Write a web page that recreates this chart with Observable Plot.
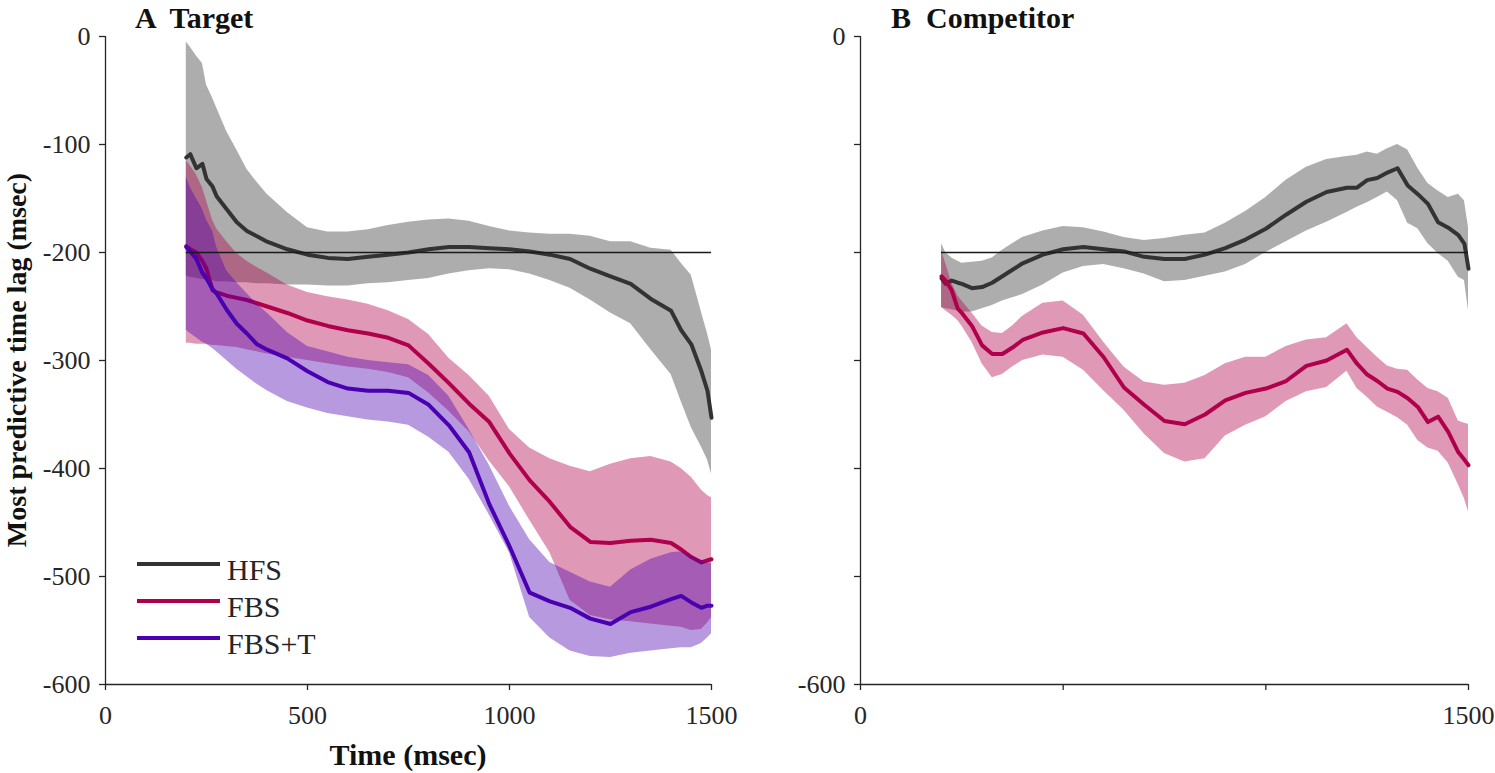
<!DOCTYPE html>
<html>
<head>
<meta charset="utf-8">
<script src="https://cdn.jsdelivr.net/npm/d3@7"></script>
<script src="https://cdn.jsdelivr.net/npm/@observablehq/plot@0.6"></script>
<style>
  html, body { margin: 0; padding: 0; background: #fff; }
  #wrap { position: relative; width: 1495px; height: 773px; overflow: hidden;
          font-family: "Liberation Serif", "Times New Roman", serif; color: #262626; }
  .pan { position: absolute; top: 0; }
  .pan svg { font-family: "Liberation Serif", "Times New Roman", serif !important; }
  .pan svg text { font-family: "Liberation Serif", "Times New Roman", serif !important; }
  .txt { position: absolute; white-space: pre; }
  .bold { font-weight: bold; color: #111; }
  .ylab { position: absolute; white-space: pre; line-height: 1.1; font-weight: bold; font-size: 28px; color: #111;
          transform: translate(-50%, -50%) rotate(-90deg); }
  .legline { position: absolute; height: 4px; }
</style>
</head>
<body>
<div id="wrap"></div>
<script>
// ---------------- DATA ----------------
// Panel A (Target): time grid (msec)
const timeA = [200,210,225,240,250,265,275,300,325,350,375,400,450,500,550,600,650,700,750,800,850,900,950,1000,1050,1100,1150,1200,1250,1300,1350,1400,1425,1450,1475,1490,1500];

const hfsA     = [-112,-109,-122,-118,-132,-139,-148,-160,-172,-180,-185,-190,-197,-202,-205,-206,-204,-202,-200,-197,-195,-195,-196,-197,-199,-202,-206,-215,-222,-229,-243,-254,-272,-285,-310,-328,-353];
const hfsA_hi  = [-5,-10,-18,-25,-45,-57,-66,-88,-105,-123,-135,-146,-163,-177,-181,-181,-179,-175,-172,-170,-169,-171,-176,-180,-182,-183,-183,-185,-190,-190,-196,-198,-210,-221,-255,-275,-290];
const hfsA_lo  = [-222,-223,-224,-225,-226,-226,-227,-227,-228,-228,-229,-229,-230,-230,-231,-231,-229,-228,-226,-224,-220,-217,-215,-216,-220,-226,-233,-244,-256,-266,-290,-313,-338,-362,-380,-392,-405];

const fbsA     = [-194,-197,-200,-208,-215,-235,-237,-240,-242,-244,-247,-250,-256,-263,-268,-272,-275,-279,-286,-303,-321,-340,-357,-386,-411,-431,-454,-468,-469,-467,-466,-469,-475,-482,-487,-485,-484];
const fbsA_hi  = [-115,-120,-128,-140,-152,-170,-178,-190,-201,-208,-214,-219,-230,-237,-241,-244,-248,-254,-262,-276,-298,-314,-333,-364,-381,-391,-398,-403,-396,-391,-389,-394,-400,-408,-420,-425,-427];
const fbsA_lo  = [-284,-284,-285,-285,-285,-286,-286,-287,-288,-290,-292,-294,-297,-300,-303,-306,-308,-311,-316,-330,-347,-366,-393,-417,-448,-478,-522,-536,-540,-542,-544,-546,-547,-550,-549,-543,-538];

const fbstA    = [-195,-199,-206,-219,-224,-234,-238,-253,-266,-275,-285,-290,-298,-310,-320,-326,-328,-328,-330,-341,-360,-385,-433,-472,-515,-523,-529,-539,-544,-533,-528,-521,-518,-524,-529,-527,-527];
const fbstA_hi = [-130,-140,-150,-160,-170,-180,-195,-217,-228,-238,-248,-256,-274,-287,-292,-297,-300,-302,-304,-314,-333,-364,-397,-435,-466,-487,-496,-505,-510,-494,-484,-478,-477,-481,-485,-487,-488];
const fbstA_lo = [-272,-275,-279,-283,-285,-289,-292,-300,-308,-315,-322,-328,-338,-344,-349,-352,-355,-357,-360,-371,-385,-410,-443,-478,-538,-557,-569,-574,-575,-571,-569,-567,-566,-566,-562,-557,-553];

// Panel B (Competitor)
const timeB = [200,210,225,240,250,275,300,325,350,375,400,450,500,550,600,650,700,750,800,850,900,950,1000,1050,1100,1150,1200,1225,1250,1275,1300,1325,1350,1375,1400,1425,1450,1475,1490,1500];

const hfsB     = [-224,-229,-226,-228,-229,-233,-232,-228,-222,-216,-210,-202,-197,-195,-197,-199,-204,-206,-206,-202,-196,-188,-178,-165,-153,-144,-140,-140,-133,-131,-126,-122,-138,-146,-155,-172,-177,-184,-192,-215];
const hfsB_hi  = [-192,-200,-205,-208,-210,-209,-208,-205,-198,-192,-186,-180,-176,-177,-181,-186,-189,-187,-184,-182,-173,-162,-149,-133,-121,-114,-111,-110,-107,-109,-104,-100,-105,-122,-136,-143,-149,-146,-152,-177];
const hfsB_lo  = [-251,-252,-253,-254,-255,-255,-252,-249,-245,-242,-239,-230,-219,-213,-211,-215,-220,-227,-226,-222,-218,-211,-200,-190,-180,-172,-163,-158,-154,-149,-144,-152,-173,-178,-192,-201,-208,-223,-226,-254];

const fbsB     = [-222,-226,-235,-252,-256,-268,-286,-294,-294,-288,-281,-274,-270,-275,-297,-325,-341,-356,-359,-350,-337,-330,-326,-319,-305,-300,-290,-303,-313,-319,-326,-329,-335,-343,-357,-352,-366,-385,-392,-397];
const fbsB_hi  = [-198,-210,-228,-240,-245,-256,-268,-274,-275,-268,-259,-247,-245,-258,-283,-306,-320,-323,-321,-314,-303,-297,-297,-287,-281,-279,-266,-279,-288,-297,-305,-308,-309,-318,-326,-329,-335,-356,-358,-359];
const fbsB_lo  = [-251,-254,-258,-263,-268,-283,-303,-316,-313,-306,-300,-295,-297,-309,-328,-346,-368,-386,-394,-391,-370,-360,-352,-338,-329,-325,-310,-326,-334,-343,-348,-353,-360,-374,-381,-384,-395,-415,-428,-440];

// Axes / reference
const xDomain = [0, 1500];
const yDomain = [-600, 0];
const xTicks = [0, 500, 1000, 1500];
const yTicks = [0, -100, -200, -300, -400, -500, -600];
const refLevel = -200;
const refStart = 200, refEnd = 1500;

const seriesNames = ["HFS", "FBS", "FBS+T"];
const seriesColors = ["#333333", "#b0004c", "#4a00b0"];

// ---------------- BUILD ----------------
const SERIF = '"Liberation Serif", "Times New Roman", serif';
const AXIS = "#262626";

function rows(t, m, lo, hi) {
  return t.map((x, i) => ({ t: x, m: m[i], lo: lo[i], hi: hi[i] }));
}

const panelA = [
  rows(timeA, hfsA, hfsA_lo, hfsA_hi),
  rows(timeA, fbsA, fbsA_lo, fbsA_hi),
  rows(timeA, fbstA, fbstA_lo, fbstA_hi)
];
const panelB = [
  rows(timeB, hfsB, hfsB_lo, hfsB_hi),
  rows(timeB, fbsB, fbsB_lo, fbsB_hi)
];

function makePanel(series, opts) {
  const marks = [];
  series.forEach((d, i) => {
    marks.push(Plot.areaY(d, { x: "t", y1: "lo", y2: "hi", fill: seriesColors[i], fillOpacity: 0.4, curve: "linear" }));
    marks.push(Plot.lineY(d, { x: "t", y: "m", stroke: seriesColors[i], strokeWidth: 4, curve: "linear" }));
  });
  marks.push(Plot.ruleY([refLevel], { x1: refStart, x2: refEnd, stroke: "#1a1a1a", strokeWidth: 1.4 }));
  marks.push(Plot.ruleX([xDomain[0]], { y1: yDomain[0], y2: yDomain[1], stroke: AXIS, strokeWidth: 1.3 }));
  marks.push(Plot.ruleY([yDomain[0]], { x1: xDomain[0], x2: xDomain[1], stroke: AXIS, strokeWidth: 1.3 }));
  marks.push(Plot.axisY({ ticks: yTicks, tickSize: 6, tickPadding: 9, tickFormat: opts.yFmt, fontSize: 26, fontFamily: SERIF, label: null, strokeWidth: 1.3 }));
  marks.push(Plot.axisX({ ticks: xTicks, tickSize: 6, tickPadding: 15, tickFormat: opts.xFmt, fontSize: 26, fontFamily: SERIF, label: null, strokeWidth: 1.3 }));
  const svg = Plot.plot({
    width: opts.width, height: 773,
    marginLeft: opts.marginLeft, marginRight: opts.marginRight, marginTop: 36, marginBottom: 89,
    x: { domain: xDomain },
    y: { domain: yDomain },
    style: { background: "transparent", overflow: "visible", maxWidth: "none", color: AXIS },
    marks
  });
  svg.setAttribute("font-family", SERIF);
  svg.style.fontFamily = SERIF;
  svg.style.color = AXIS;
  return svg;
}

const wrap = document.getElementById("wrap");

const svgA = makePanel(panelA, {
  width: 740, marginLeft: 105, marginRight: 29,
  yFmt: d => String(d), xFmt: d => String(d)
});
const divA = document.createElement("div");
divA.className = "pan"; divA.style.left = "0px"; divA.style.width = "740px";
divA.appendChild(svgA); wrap.appendChild(divA);

const svgB = makePanel(panelB, {
  width: 695, marginLeft: 60, marginRight: 27,
  yFmt: d => (d === 0 || d === -600) ? String(d) : "",
  xFmt: d => (d === 0 || d === 1500) ? String(d) : ""
});
const divB = document.createElement("div");
divB.className = "pan"; divB.style.left = "800px"; divB.style.width = "695px";
divB.appendChild(svgB); wrap.appendChild(divB);

// ---------------- TEXT ----------------
// line-height 1.2 box; baseline = top + (0.6 - 0.5535 + 0.891) em = top + 0.9375 em
function addText(str, left, baseline, size, cls, anchor) {
  const el = document.createElement("div");
  el.className = "txt " + (cls || "");
  el.textContent = str;
  el.style.fontSize = size + "px";
  el.style.lineHeight = "1.2";
  el.style.top = Math.max(0, baseline - 0.9375 * size) + "px";
  el.style.left = left + "px";
  if (anchor === "middle") el.style.transform = "translateX(-50%)";
  wrap.appendChild(el);
  return el;
}

addText("A  Target", 135, 27, 30, "bold");
addText("B  Competitor", 891, 27, 30, "bold");
addText("Time (msec)", 408, 765, 30, "bold", "middle");

const yl = document.createElement("div");
yl.className = "ylab";
yl.textContent = "Most predictive time lag (msec)";
yl.style.left = "17px";
yl.style.top = "360px";
wrap.appendChild(yl);

// Legend
const legendY = [564, 601, 638];
seriesNames.forEach((name, i) => {
  const ln = document.createElement("div");
  ln.className = "legline";
  ln.style.left = "137px";
  ln.style.width = "83px";
  ln.style.top = (legendY[i] - 2) + "px";
  ln.style.background = seriesColors[i];
  wrap.appendChild(ln);
  addText(name, 227, legendY[i] + 16, 30, "");
});
</script>
</body>
</html>
